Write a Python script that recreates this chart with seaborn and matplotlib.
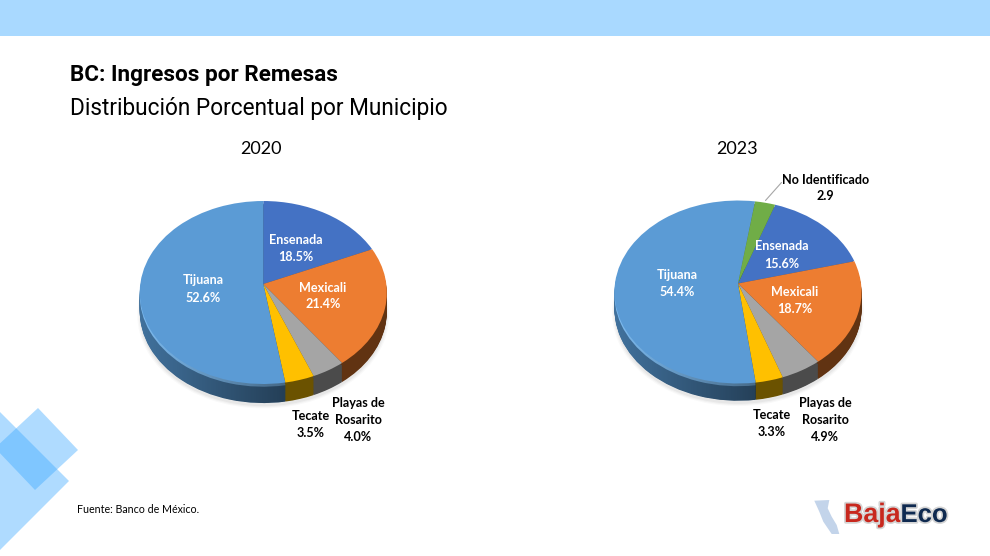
"""Remesas por municipio en Baja California: 2020 contra 2023."""

import matplotlib

matplotlib.use("Agg")

import matplotlib.patheffects as pe
import matplotlib.pyplot as plt
import matplotlib.transforms as mtransforms
import numpy as np
import seaborn as sns
from matplotlib.patches import Polygon
from matplotlib.path import Path

W, H = 990, 556

MUNICIPIOS_2020 = ["Ensenada", "Mexicali", "Playas de\nRosarito", "Tecate", "Tijuana"]
VALORES_2020 = [18.5, 21.4, 4.0, 3.5, 52.6]
MUNICIPIOS_2023 = ["Ensenada", "Mexicali", "Playas de\nRosarito", "Tecate", "Tijuana", "No Identificado"]
VALORES_2023 = [15.6, 18.7, 4.9, 3.3, 54.4, 2.9]

FACE_COLORS = {
    "Ensenada": "#4472C4",
    "Mexicali": "#ED7D31",
    "Playas de\nRosarito": "#A5A5A5",
    "Tecate": "#FFC000",
    "Tijuana": "#5B9BD5",
    "No Identificado": "#70AD47",
}
WALL_COLORS = {
    "Ensenada": "#2b4a80",
    "Mexicali": "#613312",
    "Playas de\nRosarito": "#4b4b4b",
    "Tecate": "#6b5200",
    "Tijuana": "#41719C",
    "No Identificado": "#47702d",
}
TIJUANA_RIM = "#7DBBF0"

# label centres in pixels of the page
LABELS_2020 = {
    "Ensenada": (295.5, 248.5),
    "Mexicali": (323, 296),
    "Playas de\nRosarito": (358, 420),
    "Tecate": (311, 424.5),
    "Tijuana": (203, 289),
}
LABELS_2023 = {
    "Ensenada": (782, 255),
    "Mexicali": (795, 300.5),
    "Playas de\nRosarito": (825, 420),
    "Tecate": (772, 423.5),
    "Tijuana": (677, 283.5),
    "No Identificado": (825.5, 188),
}
DARK_LABELS = ["Playas de\nRosarito", "Tecate", "No Identificado"]

# horizontal and vertical radius in pixels, and how much the far side shrinks
RADIUS_X = 123.0
RADIUS_Y = 90.7
TILT = 0.0929


class TiltTransform(mtransforms.Transform):
    """Perspective of a disc leaning away from the viewer."""

    input_dims = 2
    output_dims = 2
    is_separable = False
    has_inverse = False

    def transform_non_affine(self, values):
        values = np.asarray(values, dtype=float)
        w = 1 + TILT * values[:, 1]
        return np.column_stack([values[:, 0] / w, values[:, 1] / w])


def draw_layer(ax, values, colors, startangle, shift):
    """Draw one copy of the pie, moved down by shift axis units."""
    wedges, _ = ax.pie(values, colors=colors, startangle=startangle, counterclock=False, normalize=True)
    to_data = TiltTransform() + mtransforms.Affine2D().translate(0, -shift) + ax.transData
    for wedge in wedges:
        wedge.set_transform(to_data)
        wedge.set_clip_on(False)
        wedge.set_linewidth(0)
    return wedges


def draw_pie(fig, center, names, values, startangle, depth):
    """Draw a pie with a wall, a rim and a soft shadow around its apex."""
    half_w, half_h = 150, 130
    cx, cy = center
    box = [(cx - half_w) / W, 1 - (cy + half_h) / H, 2 * half_w / W, 2 * half_h / H]
    ax = fig.add_axes(box)
    xlim = (-half_w / RADIUS_X, half_w / RADIUS_X)
    ylim = (-half_h / RADIUS_Y, half_h / RADIUS_Y)

    for grow, alpha in [(1.02, 0.025), (1.01, 0.03), (1.0, 0.04)]:
        shadow, _ = ax.pie([1], colors=["black"], radius=grow, wedgeprops={"alpha": alpha, "linewidth": 0})
        shadow[0].set_transform(TiltTransform() + mtransforms.Affine2D().translate(0, -depth - 0.035) + ax.transData)
        shadow[0].set_clip_on(False)

    tijuana = names.index("Tijuana")
    walls = [WALL_COLORS[name] for name in names]
    tijuana_walls = []
    for shift in np.linspace(depth, 0.035, 22):
        layer = draw_layer(ax, values, walls, startangle, shift)
        tijuana_walls.append(layer[tijuana])

    rims = list(walls)
    rims[tijuana] = TIJUANA_RIM
    rim = draw_layer(ax, values, rims, startangle, 0.03)
    tijuana_walls.append(rim[tijuana])

    ax.set_xlim(*xlim)
    ax.set_ylim(*ylim)
    ax.set_aspect("auto")
    ax.set_position(box)

    # the wall of the big slice gets darker towards the front, and so does its rim
    ramp = np.zeros((1, 64, 4))
    ramp[0, :, 3] = np.linspace(0.0, 0.46, 64)
    image = ax.imshow(ramp, extent=(-1.0, 0.22, ylim[0], ylim[1]), aspect="auto", zorder=2, interpolation="bilinear")
    clip = Path.make_compound_path(*[w.get_transform().transform_path(w.get_path()) for w in tijuana_walls])
    image.set_clip_path(clip, mtransforms.IdentityTransform())

    face = draw_layer(ax, values, [FACE_COLORS[name] for name in names], startangle, 0.0)
    for wedge in face:
        wedge.set_zorder(4)

    ax.set_xlim(*xlim)
    ax.set_ylim(*ylim)
    ax.set_aspect("auto")
    ax.axis("off")


def write_labels(page, names, values, positions):
    """Write the name and the share of each slice."""
    for name, value in zip(names, values):
        text = f"{name}\n{value}" if name == "No Identificado" else f"{name}\n{value:.1f}%"
        x, y = positions[name]
        page.text(
            x,
            y,
            text,
            ha="center",
            va="center",
            ma="center",
            fontsize=9.1,
            fontweight="bold",
            linespacing=1.5,
            color="black" if name in DARK_LABELS else "white",
        )


def draw_page(page):
    """Band, corner diamonds, titles, source and logo."""
    page.add_patch(Polygon([(0, 0), (W, 0), (W, 36), (0, 36)], color="#A9D9FF", lw=0))
    page.add_patch(Polygon([(38, 408), (78, 450), (35, 490), (-5, 448)], color="#39A7FF", alpha=0.4, lw=0))
    page.add_patch(Polygon([(0, 412), (69, 481), (0, 550)], color="#39A7FF", alpha=0.4, lw=0))

    page.text(70, 74.5, "BC: Ingresos por Remesas", family="Roboto", fontweight="bold", fontsize=16.2, va="center")
    page.text(70, 108, "Distribución Porcentual por Municipio", family="Roboto", fontsize=16.3, va="center")
    page.text(261, 148.5, "2020", fontsize=13, ha="center", va="center")
    page.text(737, 148.5, "2023", fontsize=13, ha="center", va="center")
    page.text(77, 509.5, "Fuente: Banco de México.", fontsize=7.7, va="center")

    page.plot([765.5, 781.5], [200.5, 182.5], color="#A6A6A6", lw=0.8)

    page.add_patch(
        Polygon(
            [
                (814.3, 500.7),
                (829.3, 500),
                (827.7, 508.3),
                (831.7, 516.7),
                (836.7, 525),
                (839.3, 534),
                (831.7, 534),
                (823.3, 521.7),
                (819.3, 511.7),
            ],
            color="#C3D4EA",
            lw=0,
        )
    )
    shadow = [pe.withStroke(linewidth=2.5, foreground="#D5D5D5")]
    logo = {"family": "Liberation Sans", "fontweight": "bold", "va": "center"}
    page.text(844, 515, "Baja", color="#C8281E", fontsize=19.3, path_effects=shadow, **logo)
    page.text(900.5, 515, "Eco", color="#0F2A50", fontsize=18.5, path_effects=shadow, **logo)


def main():
    sns.set_theme(style="white")
    plt.rcParams["font.family"] = ["Lato", "DejaVu Sans"]
    plt.rcParams["text.color"] = "black"

    fig = plt.figure(figsize=(W / 100, H / 100), dpi=100, facecolor="white")

    draw_pie(fig, (263.3, 284), MUNICIPIOS_2020, VALORES_2020, 90, 0.21)
    draw_pie(fig, (738, 283.5), MUNICIPIOS_2023, VALORES_2023, 70.8, 0.19)

    page = fig.add_axes([0, 0, 1, 1], zorder=5)
    page.set_xlim(0, W)
    page.set_ylim(H, 0)
    page.axis("off")
    page.patch.set_alpha(0)

    draw_page(page)
    write_labels(page, MUNICIPIOS_2020, VALORES_2020, LABELS_2020)
    write_labels(page, MUNICIPIOS_2023, VALORES_2023, LABELS_2023)

    fig.savefig("out.png", dpi=100)
    plt.close(fig)


if __name__ == "__main__":
    main()
